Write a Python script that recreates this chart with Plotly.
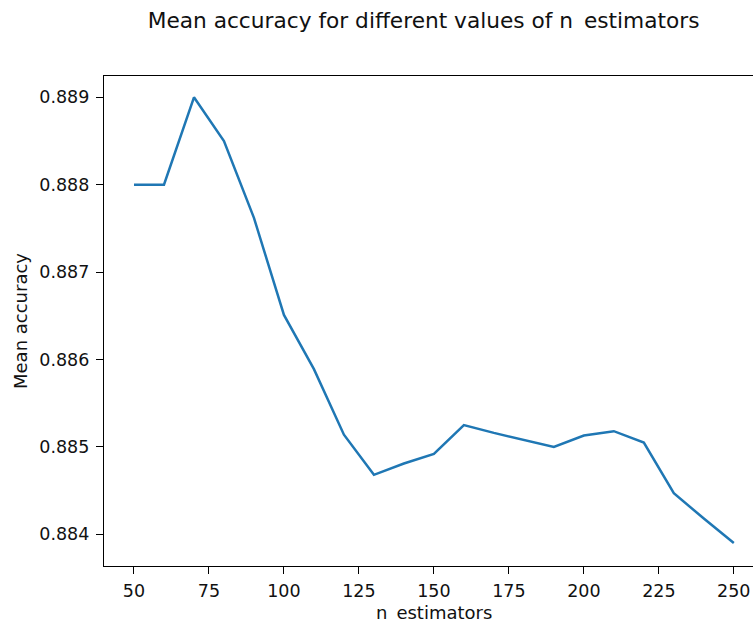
import plotly.graph_objects as go

# Grid-search results: number of trees vs. mean cross-validated accuracy
n_estimators = [50, 60, 70, 80, 90, 100, 110, 120, 130, 140, 150,
                160, 170, 180, 190, 200, 210, 220, 230, 240, 250]
mean_accuracy = [0.88800, 0.88800, 0.88900, 0.88850, 0.88762, 0.88651,
                 0.88589, 0.88514, 0.88468, 0.88481, 0.88492, 0.88525,
                 0.88516, 0.88508, 0.88500, 0.88513, 0.88518, 0.88505,
                 0.88447, 0.88418, 0.88390]

x_ticks = [50, 75, 100, 125, 150, 175, 200, 225, 250]
y_ticks = [0.884, 0.885, 0.886, 0.887, 0.888, 0.889]

W, H = 753, 624
L, T, B = 104, 76, 58
plot_w = W - L
plot_h = H - T - B

FONT = "DejaVu Sans"
TEXT = "#111"

fig = go.Figure()
fig.add_trace(go.Scatter(
    x=n_estimators, y=mean_accuracy, mode="lines",
    line=dict(color="#1f77b4", width=2.5),
    hoverinfo="x+y", showlegend=False,
))

axis_common = dict(
    showgrid=False, zeroline=False,
    showline=True, linecolor="black", linewidth=1.2,
    ticks="outside", ticklen=7, tickwidth=1.2, tickcolor="black",
    tickfont=dict(family=FONT, size=17.5, color=TEXT),
)

fig.update_layout(
    width=W, height=H,
    margin=dict(l=L, r=0, t=T, b=B),
    paper_bgcolor="white", plot_bgcolor="white",
    font=dict(family=FONT, color=TEXT),
    title=dict(
        text="Mean accuracy for different values of n\u2002estimators",
        font=dict(family=FONT, size=21.7, color=TEXT),
        x=423.6 / W, xanchor="center", xref="container",
        y=1 - 20 / H, yanchor="middle", yref="container",
    ),
    xaxis=dict(
        range=[40, 256.4], tickvals=x_ticks,
        ticktext=[str(v) for v in x_ticks],
        mirror=True, ticklabelstandoff=2, **axis_common,
    ),
    yaxis=dict(
        range=[0.883637, 0.889244], tickvals=y_ticks,
        ticktext=[f"{v:.3f}" for v in y_ticks],
        mirror=False, ticklabelstandoff=3, **axis_common,
    ),
    annotations=[
        dict(text="n\u2002estimators", xref="paper", yref="paper",
             x=(433.8 - L) / plot_w, y=(H - B - 612) / plot_h,
             xanchor="center", yanchor="middle", showarrow=False,
             font=dict(family=FONT, size=18, color=TEXT)),
        dict(text="Mean accuracy", xref="paper", yref="paper",
             x=(20 - L) / plot_w, y=0.5, textangle=-90,
             xanchor="center", yanchor="middle", showarrow=False,
             font=dict(family=FONT, size=18, color=TEXT)),
    ],
)

fig.write_html("out.html")
